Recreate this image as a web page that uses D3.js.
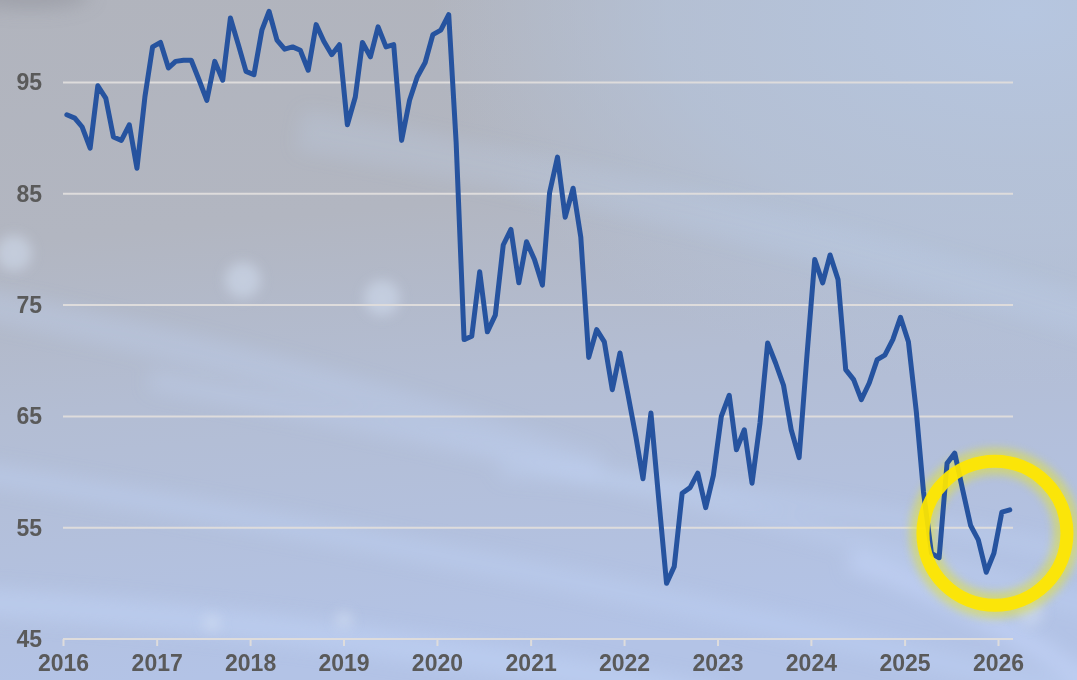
<!DOCTYPE html>
<html>
<head>
	<title>Index</title>
	<style>
		body { margin: 0; padding: 0; overflow: hidden; background: #b4bac6; }
		svg { display: block; }
	</style>
</head>
<body>

<div id="dataviz"></div>

<script src="https://cdnjs.cloudflare.com/ajax/libs/d3/7.8.5/d3.min.js"></script>
<script>

	// monthly readings, Jan 2016 .. Feb 2026
	var startYear = 2016;
	var values2016 = [92.1, 91.8, 91.0, 89.1, 94.7, 93.6, 90.1, 89.8, 91.2, 87.3, 93.7, 98.2];
	var values2017 = [98.6, 96.3, 96.9, 97.0, 97.0, 95.2, 93.4, 96.9, 95.2, 100.8, 98.4, 96.0];
	var values2018 = [95.7, 99.7, 101.4, 98.8, 98.0, 98.2, 97.9, 96.1, 100.2, 98.7, 97.5, 98.4];
	var values2019 = [91.2, 93.7, 98.6, 97.3, 100.0, 98.2, 98.4, 89.8, 93.4, 95.5, 96.8, 99.3];
	var values2020 = [99.7, 101.1, 89.6, 71.9, 72.2, 78.0, 72.6, 74.1, 80.4, 81.8, 77.0, 80.7];
	var values2021 = [79.1, 76.8, 85.1, 88.3, 82.9, 85.5, 81.1, 70.3, 72.8, 71.7, 67.4, 70.7];
	var values2022 = [67.0, 63.2, 59.4, 65.3, 57.7, 50.0, 51.5, 58.1, 58.6, 59.9, 56.8, 59.7];
	var values2023 = [65.0, 66.9, 62.0, 63.8, 59.0, 64.4, 71.6, 69.8, 67.8, 63.8, 61.3, 70.3];
	var values2024 = [79.1, 77.0, 79.5, 77.3, 69.2, 68.3, 66.5, 68.0, 70.1, 70.5, 71.9, 73.9];
	var values2025 = [71.7, 65.4, 58.2, 52.7, 52.3, 60.8, 61.7, 58.4, 55.2, 53.9, 51.0, 52.7];
	var values2026 = [56.4, 56.6];

	var yearTicks = [2016, 2017, 2018, 2019, 2020, 2021, 2022, 2023, 2024, 2025, 2026];
	var valueTicks = [45, 55, 65, 75, 85, 95];

	// highlighted recent readings (circled)
	var highlightDate = [2025, 11, 20];
	var highlightValue = 54.5;

	var width = 1077;
	var height = 680;

	var allValues = [].concat(values2016, values2017, values2018, values2019, values2020,
		values2021, values2022, values2023, values2024, values2025, values2026);

	var data = allValues.map(function(v, i){
		return {
			date: new Date(startYear + Math.floor(i / 12), i % 12, 16),
			value: v
		};
	});

	var svg = d3.select('#dataviz')
		.append('svg')
		.attr('width', width)
		.attr('height', height)
		;

	var defs = svg.append('defs');

	var bgGrad = defs.append('linearGradient')
		.attr('id', 'bgGrad')
		.attr('x1', 0).attr('y1', 0)
		.attr('x2', 0.15).attr('y2', 1)
		;
	bgGrad.append('stop').attr('offset', 0).attr('stop-color', '#b1b4bd');
	bgGrad.append('stop').attr('offset', 0.35).attr('stop-color', '#b2b6c1');
	bgGrad.append('stop').attr('offset', 0.6).attr('stop-color', '#b3bdd3');
	bgGrad.append('stop').attr('offset', 1).attr('stop-color', '#b3c3e6');

	var cornerGrad = defs.append('radialGradient')
		.attr('id', 'cornerGrad')
		.attr('cx', 0.95).attr('cy', 0.02).attr('r', 0.55)
		;
	cornerGrad.append('stop').attr('offset', 0).attr('stop-color', '#b6c6e0').attr('stop-opacity', 1);
	cornerGrad.append('stop').attr('offset', 0.6).attr('stop-color', '#b5c4dc').attr('stop-opacity', 0.7);
	cornerGrad.append('stop').attr('offset', 1).attr('stop-color', '#b5c4dc').attr('stop-opacity', 0);

	var blur = defs.append('filter')
		.attr('id', 'blur')
		.attr('x', '-50%').attr('y', '-50%').attr('width', '200%').attr('height', '200%');
	blur.append('feGaussianBlur').attr('stdDeviation', 9);

	var softBlur = defs.append('filter')
		.attr('id', 'softBlur')
		.attr('x', '-50%').attr('y', '-50%').attr('width', '200%').attr('height', '200%');
	softBlur.append('feGaussianBlur').attr('stdDeviation', 6);

	var glow = defs.append('filter')
		.attr('id', 'glow')
		.attr('x', '-30%').attr('y', '-30%').attr('width', '160%').attr('height', '160%');
	glow.append('feGaussianBlur').attr('stdDeviation', 4);

	svg.append('rect')
		.attr('width', width)
		.attr('height', height)
		.attr('fill', 'url(#bgGrad)')
		;

	svg.append('rect')
		.attr('width', width)
		.attr('height', height)
		.attr('fill', 'url(#cornerGrad)')
		;

	// light streaks in the backdrop
	var streaks = svg.append('g').attr('filter', 'url(#blur)');

	[[-40, 600, 720, 700, 28, 0.45],
	 [-40, 470, 1100, 700, 22, 0.35],
	 [150, 380, 1100, 610, 18, 0.3],
	 [500, 470, 1100, 560, 14, 0.35],
	 [-40, 300, 600, 470, 30, 0.25],
	 [300, 130, 1100, 320, 40, 0.18],
	 [850, 560, 1100, 690, 20, 0.6]
	].forEach(function(s){
		streaks.append('path')
			.attr('d', 'M' + s[0] + ',' + s[1] + ' Q' + ((s[0] + s[2]) / 2) + ',' + ((s[1] + s[3]) / 2 - 25) + ' ' + s[2] + ',' + s[3])
			.attr('stroke', '#c4d6fa')
			.attr('stroke-width', s[4])
			.attr('stroke-opacity', s[5])
			.attr('fill', 'none')
			;
	});

	streaks.append('ellipse')
		.attr('cx', 30).attr('cy', -5).attr('rx', 60).attr('ry', 14)
		.attr('fill', '#8e9098').attr('opacity', 0.5);

	var blobs = svg.append('g').attr('filter', 'url(#softBlur)');
	[[14, 253, 18], [243, 280, 18], [382, 298, 18], [212, 623, 9], [344, 620, 9], [1030, 612, 14]]
		.forEach(function(b){
			blobs.append('circle')
				.attr('cx', b[0]).attr('cy', b[1]).attr('r', b[2])
				.attr('fill', '#d6e2f4').attr('opacity', 0.5);
		});

	var x = d3.scaleTime()
		.domain([new Date(2016, 0, 1), new Date(2026, 0, 1)])
		.range([63, 998])
		;

	var y = d3.scaleLinear()
		.domain([45, 95])
		.range([639, 82.5])
		;

	var plotRight = 1013;

	// grid
	svg.append('g')
		.selectAll('.grid')
		.data(valueTicks)
		.enter()
		.append('line')
		.attr('class', 'grid')
		.attr('x1', 63)
		.attr('x2', plotRight)
		.attr('y1', function(d){ return y(d); })
		.attr('y2', function(d){ return y(d); })
		.attr('stroke', '#dedcdc')
		.attr('stroke-width', 2)
		;

	var yAxis = svg.append('g')
		.attr('transform', 'translate(63,0)')
		.call(d3.axisLeft(y).tickValues(valueTicks).tickSize(0).tickPadding(21))
		;
	yAxis.select('.domain').remove();
	yAxis.selectAll('text')
		.attr('font-family', 'Liberation Sans, Arial, sans-serif')
		.attr('font-weight', 'bold')
		.attr('font-size', 23)
		.attr('fill', '#5a5a5a')
		;

	var xAxis = svg.append('g')
		.attr('transform', 'translate(0,' + y(45) + ')')
		.call(d3.axisBottom(x)
			.tickValues(yearTicks.map(function(d){ return new Date(d, 0, 1); }))
			.tickFormat(d3.timeFormat('%Y'))
			.tickSize(7)
			.tickPadding(9))
		;
	xAxis.select('.domain').remove();
	xAxis.selectAll('line')
		.attr('stroke', '#dedcdc')
		.attr('stroke-width', 2)
		;
	xAxis.selectAll('text')
		.attr('font-family', 'Liberation Sans, Arial, sans-serif')
		.attr('font-weight', 'bold')
		.attr('font-size', 23)
		.attr('fill', '#5a5a5a')
		;

	// highlight ring
	var hx = x(new Date(highlightDate[0], highlightDate[1], highlightDate[2]));
	var hy = y(highlightValue);

	svg.append('circle')
		.attr('cx', hx).attr('cy', hy).attr('r', 72)
		.attr('fill', 'none')
		.attr('stroke', '#e0e040')
		.attr('stroke-width', 26)
		.attr('opacity', 0.6)
		.attr('filter', 'url(#glow)')
		;

	var line = d3.line()
		.x(function(d){ return x(d.date); })
		.y(function(d){ return y(d.value); })
		;

	svg.append('path')
		.datum(data)
		.attr('d', line)
		.attr('fill', 'none')
		.attr('stroke', '#26539f')
		.attr('stroke-width', 5)
		.attr('stroke-linejoin', 'round')
		.attr('stroke-linecap', 'round')
		;

	svg.append('circle')
		.attr('cx', hx).attr('cy', hy).attr('r', 72)
		.attr('fill', 'none')
		.attr('stroke', '#ffe600')
		.attr('stroke-width', 13)
		.attr('opacity', 0.93)
		;

</script>

</body>
</html>
